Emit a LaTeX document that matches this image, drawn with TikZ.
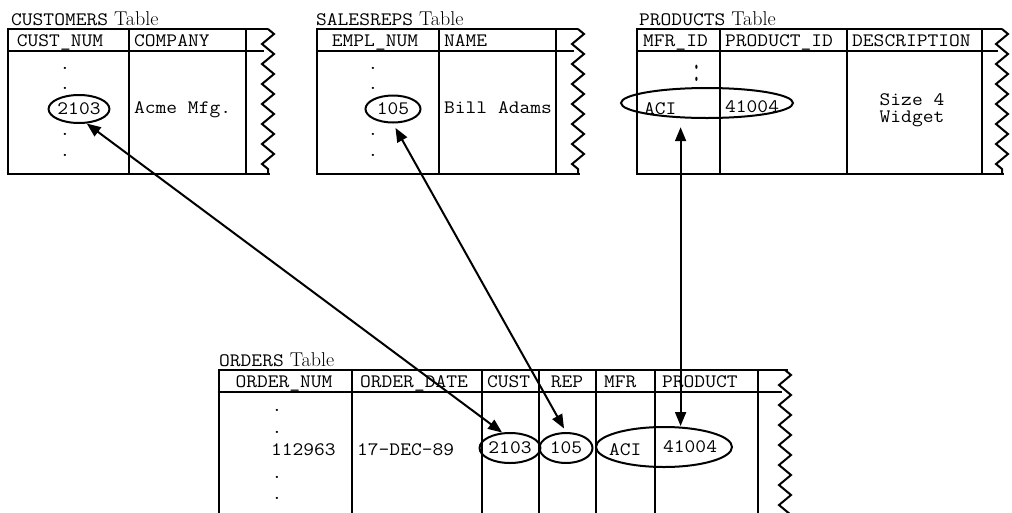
\documentclass[tikz,border=0pt]{standalone}
\usepackage{fontspec}
\setmonofont[FakeStretch=1.1]{Latin Modern Mono}
\usetikzlibrary{
arrows.meta,
positioning,
shapes.geometric,
decorations.pathmorphing
}
\newcommand{\tabfont}{\ttfamily\fontsize{19}{17}\selectfont}
\newcommand{\ttlfont}{\rmfamily\fontsize{20}{22}\selectfont}

\begin{document}
\begin{tikzpicture}[
  x=1pt, y=-1pt,
  frame/.style={line width=2pt},
  zz/.style={line width=2pt, decorate, decoration={zigzag, segment length=20pt, amplitude=6pt}},
  cell/.style={anchor=base, inner sep=0pt, font=\tabfont},
  lcell/.style={anchor=base west, inner sep=0pt, font=\tabfont},
  ttl/.style={anchor=base west, inner sep=0pt, font=\ttlfont},
  key/.style={draw, ellipse, line width=2pt, inner sep=0pt, font=\tabfont},
  link/.style={{Triangle[length=14pt,width=11pt]}-{Triangle[length=14pt,width=11pt]}, line width=2pt}
]
\useasboundingbox (0,0) rectangle (1012,512);
\clip (0,0) rectangle (1012,512);

% Table titles
\node[ttl] (custttl) at (11,25) {{\tabfont CUSTOMERS} Table};
\node[ttl] (repttl) at (316,25) {{\tabfont SALESREPS} Table};
\node[ttl] (prodttl) at (639,25) {{\tabfont PRODUCTS} Table};
\node[ttl] (ordttl) at (219,366) {{\tabfont ORDERS} Table};

% CUSTOMERS table
\draw[frame] (268,29) -- (8,29) -- (8,174) -- (270,174);
\draw[frame] (8,51) -- (264,51);
\foreach \x in {129,246} \draw[frame] (\x,29) -- (\x,174);
\draw[zz] (268,29) -- (268,174);
\node[cell] (custh1) at (60,46) {CUST\_NUM};
\node[lcell] (custh2) at (134,46) {COMPANY};
\foreach \y [count=\i] in {68,88,134,155} \node[cell] (custdot\i) at (65,\y+1.5) {.};
\node[key, minimum width=54pt, minimum height=28pt] (cust2103) at (79,109) {2103};
\node[lcell] (acme) at (134,113) {Acme Mfg.};

% SALESREPS table
\draw[frame] (578,29) -- (317,29) -- (317,174) -- (580,174);
\draw[frame] (317,51) -- (574,51);
\foreach \x in {439,556} \draw[frame] (\x,29) -- (\x,174);
\draw[zz] (578,29) -- (578,174);
\node[cell] (reph1) at (375,46) {EMPL\_NUM};
\node[lcell] (reph2) at (444,46) {NAME};
\foreach \y [count=\i] in {68,88,134,155} \node[cell] (repdot\i) at (373,\y+1.5) {.};
\node[key, minimum width=55pt, minimum height=27pt] (rep105) at (393,109) {105};
\node[lcell] (bill) at (444,113) {Bill Adams};

% PRODUCTS table
\draw[frame] (1002,29) -- (637,29) -- (637,174) -- (1004,174);
\draw[frame] (637,51) -- (998,51);
\foreach \x in {720,847,982} \draw[frame] (\x,29) -- (\x,174);
\draw[zz] (1002,29) -- (1002,174);
\node[lcell] (prodh1) at (643,46) {MFR\_ID};
\node[lcell] (prodh2) at (725,46) {PRODUCT\_ID};
\node[lcell] (prodh3) at (852,46) {DESCRIPTION};
\node[cell] (proddots) at (697,81.5) {\scalebox{1}[2]{:}};
\node[key, minimum width=172pt, minimum height=30pt] (prodkey) at (707,103) {};
\node[lcell] (prodaci) at (644,114) {ACI};
\node[lcell] (prod41004) at (725,112) {41004};
\node[cell, anchor=center, align=center] (widget) at (912,110) {Size 4\\Widget};

% ORDERS table
\draw[frame] (788,370) -- (219,370) -- (219,520);
\draw[frame] (219,392) -- (782,392);
\foreach \x in {352,482,539,596,655,758} \draw[frame] (\x,370) -- (\x,520);
\draw[zz] (785,370) -- (785,540);
\node[cell] (ordh1) at (284,387) {ORDER\_NUM};
\node[cell] (ordh2) at (414,387) {ORDER\_DATE};
\node[lcell] (ordh3) at (487,387) {CUST};
\node[cell] (ordh4) at (567,387) {REP};
\node[lcell] (ordh5) at (604,387) {MFR};
\node[lcell] (ordh6) at (662,387) {PRODUCT};
\foreach \y [count=\i] in {410,432,477,498} \node[cell] (orddot\i) at (277,\y+1.5) {.};
\node[lcell] (ordnum) at (271,455) {112963};
\node[lcell] (orddate) at (357,455) {17-DEC-89};
\node[key, minimum width=55pt, minimum height=30pt] (ord2103) at (510,448) {2103};
\node[key, minimum width=53pt, minimum height=30pt] (ord105) at (566,448) {105};
\node[key, minimum width=136pt, minimum height=40pt] (ordkey) at (664,447) {};
\node[lcell] (ordaci) at (609,455) {ACI};
\node[lcell] (ord41004) at (663,452) {41004};

% Links between keys
\draw[link] (cust2103.-62) -- (ord2103.117);
\draw[link, shorten <=5pt, shorten >=4pt] (rep105.south) -- (ord105.north);
\draw[link, shorten <=9pt] (prodkey.210) -- (prodkey.210 |- ordkey.north);

\end{tikzpicture}
\end{document}
